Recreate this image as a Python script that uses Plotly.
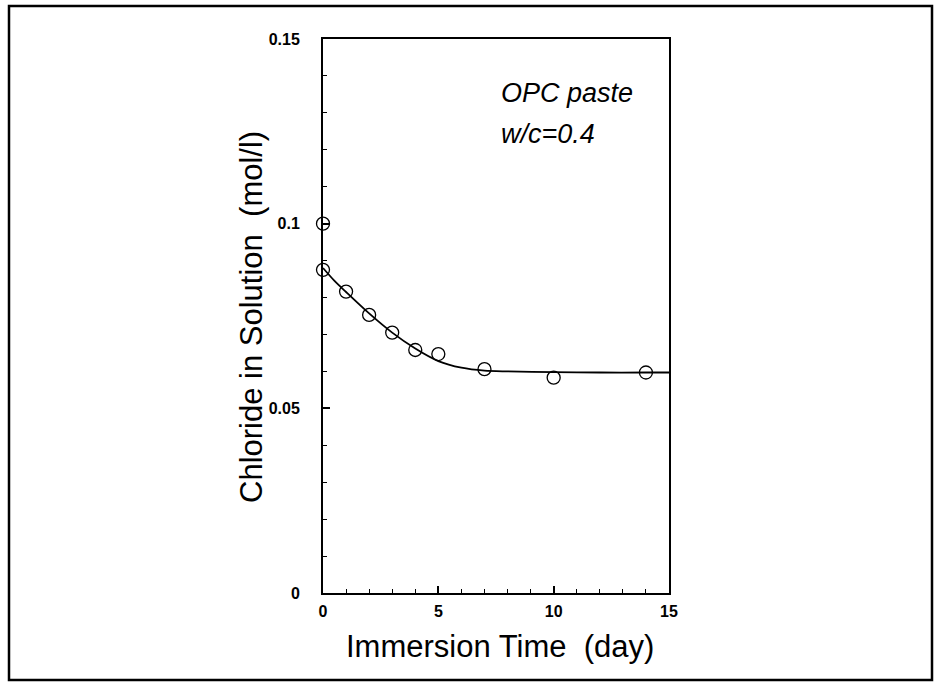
import plotly.graph_objects as go

# measured points
days = [0, 0, 1, 2, 3, 4, 5, 7, 10, 14]
chloride = [0.100, 0.0875, 0.0816, 0.0753, 0.0705, 0.0658, 0.0647, 0.0606, 0.0583, 0.0597]

# fitted curve
fit_days = [0, 0.5, 1, 2, 3, 4, 5, 6, 7, 8, 10, 12, 14, 15]
fit_vals = [0.0880, 0.0845, 0.0815, 0.0757, 0.0705, 0.0662, 0.0628, 0.0610, 0.0602, 0.0600, 0.0598, 0.0597, 0.0597, 0.0597]

x_ticks = [0, 5, 10, 15]
x_labels = ["0", "5", "10", "15"]
y_ticks = [0, 0.05, 0.1, 0.15]
y_labels = ["0", "0.05", "0.1", "0.15"]

W, H = 934, 683
L, R, T, B = 323, 669, 39, 593

def px(xp):
    return (xp - L) / (R - L)

def py(yp):
    return (B - yp) / (B - T)

FONT = "Liberation Sans, Arial, Helvetica, sans-serif"

fig = go.Figure()
fig.add_trace(go.Scatter(x=fit_days, y=fit_vals, mode="lines",
                         line=dict(color="black", width=1.8, shape="spline", smoothing=0.8),
                         showlegend=False, hoverinfo="skip"))
fig.add_trace(go.Scatter(x=days, y=chloride, mode="markers",
                         marker=dict(symbol="circle-open", size=13, color="black",
                                     line=dict(width=1.3, color="black")),
                         showlegend=False, cliponaxis=False))

axis_common = dict(showgrid=False, zeroline=False, showline=True, linecolor="black",
                   linewidth=2, mirror=True, ticks="inside", ticklen=7, tickwidth=1.5,
                   tickcolor="black",
                   tickfont=dict(family=FONT, size=16, color="black", weight="bold"))

fig.update_xaxes(range=[0, 15], tickvals=x_ticks, ticktext=x_labels,
                 minor=dict(dtick=1, ticks="inside", ticklen=4, tickcolor="black", tickwidth=1),
                 ticklabelstandoff=3, **axis_common)
fig.update_yaxes(range=[0, 0.15], tickvals=y_ticks, ticktext=y_labels,
                 minor=dict(dtick=0.01, ticks="inside", ticklen=4, tickcolor="black", tickwidth=1),
                 ticklabelstandoff=18, **axis_common)

annotations = [
    dict(text="Immersion Time  (day)", x=px(500), y=py(646), xref="paper", yref="paper",
         showarrow=False, font=dict(family=FONT, size=31, color="black"),
         xanchor="center", yanchor="middle"),
    dict(text="Chloride in Solution  (mol/l)", x=px(251), y=py(317), xref="paper", yref="paper",
         showarrow=False, textangle=-90, font=dict(family=FONT, size=31, color="black"),
         xanchor="center", yanchor="middle"),
    dict(text="<i>OPC paste</i>", x=px(499), y=py(93), xref="paper", yref="paper",
         showarrow=False, font=dict(family=FONT, size=27, color="black"),
         xanchor="left", yanchor="middle"),
    dict(text="<i>w/c=0.4</i>", x=px(499), y=py(134), xref="paper", yref="paper",
         showarrow=False, font=dict(family=FONT, size=27, color="black"),
         xanchor="left", yanchor="middle"),
]

shapes = [
    dict(type="rect", xref="paper", yref="paper", x0=px(9), x1=px(932), y0=py(680), y1=py(6),
         line=dict(color="black", width=2.5), fillcolor="rgba(0,0,0,0)", layer="below"),
]

fig.update_layout(width=W, height=H, margin=dict(l=L, r=W - R, t=T, b=H - B, autoexpand=False),
                  paper_bgcolor="white", plot_bgcolor="white",
                  annotations=annotations, shapes=shapes)

fig.write_html("out.html")
